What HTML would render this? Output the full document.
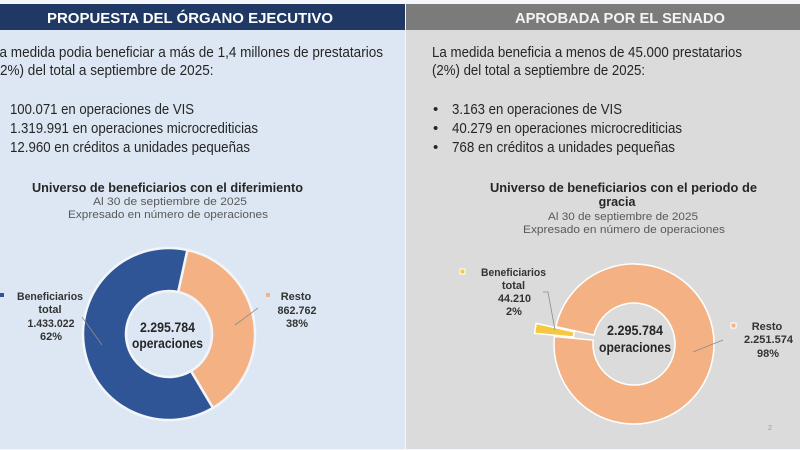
<!DOCTYPE html>
<html><head><meta charset="utf-8"><style>
html,body{margin:0;padding:0;width:800px;height:450px;overflow:hidden;background:#fff}
svg{display:block}
text{font-family:"Liberation Sans",Arial,sans-serif}
</style></head><body>
<svg width="800" height="450" viewBox="0 0 800 450" xmlns="http://www.w3.org/2000/svg">
<rect x="0" y="0" width="800" height="450" fill="#f4f6f9"/>
<rect x="0" y="4" width="405" height="445" fill="#dde7f3"/>
<rect x="406" y="4" width="394" height="445" fill="#dbdbdb"/>
<rect x="0" y="4" width="405" height="26" fill="#1f3864"/>
<rect x="406" y="4" width="394" height="26" fill="#7b7b7b"/>
<text x="190" y="23" text-anchor="middle" font-size="15" font-weight="bold" fill="#fff" textLength="286" lengthAdjust="spacingAndGlyphs">PROPUESTA DEL ÓRGANO EJECUTIVO</text>
<text x="620" y="23" text-anchor="middle" font-size="15" font-weight="bold" fill="#f4f4f4" textLength="210" lengthAdjust="spacingAndGlyphs">APROBADA POR EL SENADO</text>

<g font-size="15" fill="#262626">
<text x="-8" y="57" textLength="391" lengthAdjust="spacingAndGlyphs">La medida podia beneficiar a más de 1,4 millones de prestatarios</text>
<text x="-4.5" y="75" textLength="218" lengthAdjust="spacingAndGlyphs">(2%) del total a septiembre de 2025:</text>
<text x="10" y="114" textLength="184" lengthAdjust="spacingAndGlyphs">100.071 en operaciones de VIS</text>
<text x="10" y="133" textLength="248" lengthAdjust="spacingAndGlyphs">1.319.991 en operaciones microcrediticias</text>
<text x="10" y="152" textLength="240" lengthAdjust="spacingAndGlyphs">12.960 en créditos a unidades pequeñas</text>

<text x="432" y="57" textLength="310" lengthAdjust="spacingAndGlyphs">La medida beneficia a menos de 45.000 prestatarios</text>
<text x="432" y="75" textLength="213" lengthAdjust="spacingAndGlyphs">(2%) del total a septiembre de 2025:</text>
<text x="433" y="114">•</text>
<text x="433" y="133">•</text>
<text x="433" y="152">•</text>
<text x="452" y="114" textLength="170" lengthAdjust="spacingAndGlyphs">3.163 en operaciones de VIS</text>
<text x="452" y="133" textLength="230" lengthAdjust="spacingAndGlyphs">40.279 en operaciones microcrediticias</text>
<text x="452" y="152" textLength="223" lengthAdjust="spacingAndGlyphs">768 en créditos a unidades pequeñas</text>
</g>

<!-- left chart titles -->
<text x="32" y="192" font-size="12.5" font-weight="bold" fill="#262626" textLength="271" lengthAdjust="spacingAndGlyphs">Universo de beneficiarios con el diferimiento</text>
<text x="93" y="205" font-size="11" fill="#595959" textLength="154" lengthAdjust="spacingAndGlyphs">Al 30 de septiembre de 2025</text>
<text x="68" y="218" font-size="11" fill="#595959" textLength="200" lengthAdjust="spacingAndGlyphs">Expresado en número de operaciones</text>

<!-- right chart titles -->
<text x="490" y="192" font-size="12.5" font-weight="bold" fill="#262626" textLength="267" lengthAdjust="spacingAndGlyphs">Universo de beneficiarios con el periodo de</text>
<text x="617" y="206" text-anchor="middle" font-size="12.5" font-weight="bold" fill="#262626">gracia</text>
<text x="548" y="220" font-size="11" fill="#595959" textLength="150" lengthAdjust="spacingAndGlyphs">Al 30 de septiembre de 2025</text>
<text x="523" y="233" font-size="11" fill="#595959" textLength="202" lengthAdjust="spacingAndGlyphs">Expresado en número de operaciones</text>

<!-- left donut -->
<path d="M213.03,407.87 A86,86 0 1 1 187.47,250 L178.23,292 A43,43 0 1 0 191.02,370.94 Z" fill="#2f5597" stroke="#f2f5fa" stroke-width="2.5"/>
<path d="M187.47,250 A86,86 0 0 1 213.03,407.87 L191.02,370.94 A43,43 0 0 0 178.23,292 Z" fill="#f4b183" stroke="#f2f5fa" stroke-width="2.5"/>
<line x1="82" y1="317" x2="102" y2="345" stroke="#8c8c8c" stroke-width="0.8"/>
<line x1="235" y1="325" x2="258" y2="308" stroke="#8c8c8c" stroke-width="0.8"/>
<text x="167.5" y="332" text-anchor="middle" font-size="14" font-weight="bold" fill="#262626" textLength="55" lengthAdjust="spacingAndGlyphs">2.295.784</text>
<text x="167.5" y="348" text-anchor="middle" font-size="14" font-weight="bold" fill="#262626" textLength="71" lengthAdjust="spacingAndGlyphs">operaciones</text>

<rect x="0" y="293" width="4" height="4" fill="#2f5597"/>
<g font-size="11" font-weight="bold" fill="#333" text-anchor="middle">
<text x="50" y="300" textLength="66" lengthAdjust="spacingAndGlyphs">Beneficiarios</text>
<text x="50" y="313">total</text>
<text x="51" y="327" textLength="47" lengthAdjust="spacingAndGlyphs">1.433.022</text>
<text x="51" y="340">62%</text>
<text x="296" y="300">Resto</text>
<text x="297" y="314" textLength="39" lengthAdjust="spacingAndGlyphs">862.762</text>
<text x="297" y="327">38%</text>
</g>
<rect x="266" y="293" width="4" height="4" fill="#f4b183"/>

<!-- right donut -->
<path d="M555.93,326.55 A80,80 0 1 1 554.36,336.47 L593.18,340.14 A41,41 0 1 0 593.99,335.06 Z" fill="#f4b183" stroke="#ffffff" stroke-width="1.5"/>
<path transform="translate(-19.75,-3.13)" d="M554.36,336.47 A80,80 0 0 1 555.93,326.55 L593.99,335.06 A41,41 0 0 0 593.18,340.14 Z" fill="#f5c842" stroke="#ffffff" stroke-width="1.5"/>
<polyline points="543,292 548,292 555,330" fill="none" stroke="#8c8c8c" stroke-width="0.8"/>
<line x1="693" y1="352" x2="723" y2="340" stroke="#8c8c8c" stroke-width="0.8"/>
<text x="635" y="335" text-anchor="middle" font-size="14" font-weight="bold" fill="#262626" textLength="56" lengthAdjust="spacingAndGlyphs">2.295.784</text>
<text x="635" y="352" text-anchor="middle" font-size="14" font-weight="bold" fill="#262626" textLength="72" lengthAdjust="spacingAndGlyphs">operaciones</text>

<rect x="460" y="269" width="5" height="5" fill="#f5c842" stroke="#fff" stroke-width="1"/>
<g font-size="11" font-weight="bold" fill="#333" text-anchor="middle">
<text x="513.5" y="276" textLength="65" lengthAdjust="spacingAndGlyphs">Beneficiarios</text>
<text x="513.5" y="289">total</text>
<text x="514.5" y="302" textLength="33" lengthAdjust="spacingAndGlyphs">44.210</text>
<text x="514" y="315">2%</text>
<text x="767" y="330">Resto</text>
<text x="768.5" y="343" textLength="49" lengthAdjust="spacingAndGlyphs">2.251.574</text>
<text x="768" y="357">98%</text>
</g>
<rect x="731" y="323" width="5" height="5" fill="#f4b183" stroke="#fff" stroke-width="1"/>
<text x="770" y="430" font-size="7" fill="#9a9a9a" text-anchor="middle">2</text>
</svg>
</body></html>
